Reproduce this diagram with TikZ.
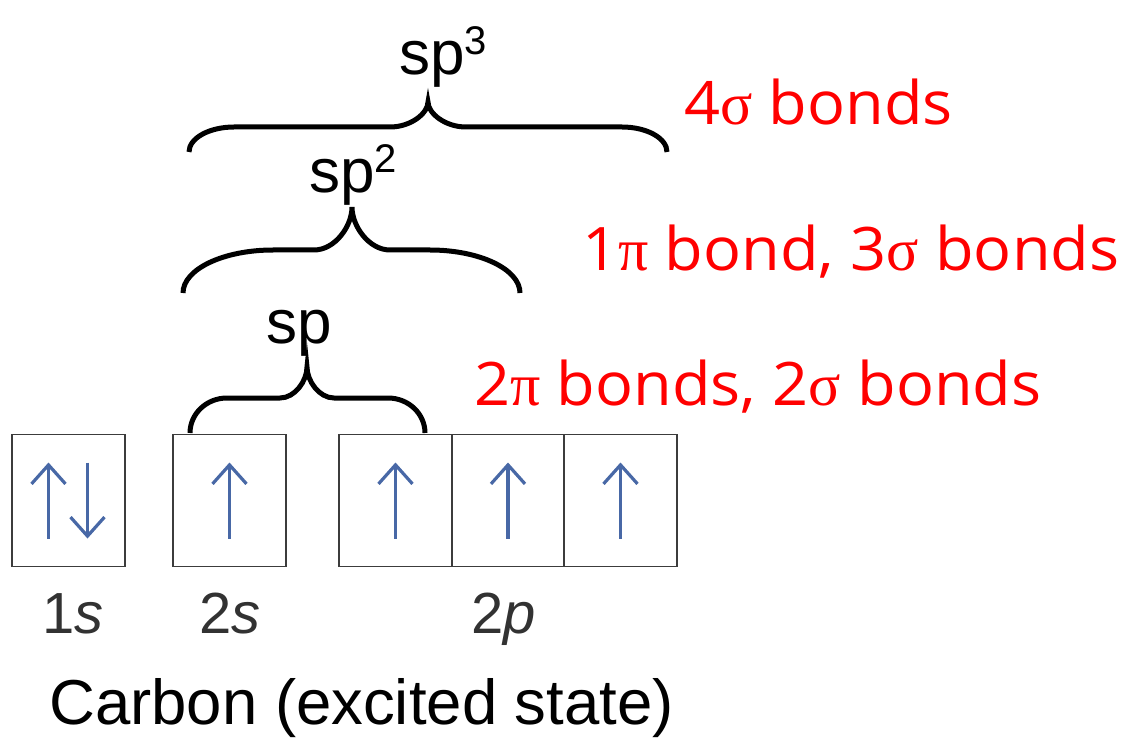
\documentclass[tikz,border=0pt]{standalone}
\usepackage{fontspec}
\setmainfont{Liberation Sans}
\newfontfamily\redfont[FakeStretch=1.05]{Open Sans}
\newfontfamily\greekfont{Liberation Serif}
\usetikzlibrary{arrows.meta}
\definecolor{spinblue}{RGB}{72,104,166}
\definecolor{boxgray}{RGB}{60,60,60}
\definecolor{lblgray}{RGB}{50,50,50}
\newcommand\supx[1]{\raisebox{20pt}{\fontsize{40}{42}\selectfont #1}}
% brace: xl, xt, xr, yb, ym, yt, rl, rt
\newcommand\hybrace[8]{%
  \draw[bracestyle] (#1,#4) .. controls (#1,{#4-0.552*(#4-#5)}) and ({#1+0.448*#7},#5) .. ({#1+#7},#5)
    -- ({#2-#8},#5) .. controls ({#2-0.448*#8},#5) and (#2,{#5-0.552*(#5-#6)}) .. (#2,#6)
    .. controls (#2,{#5-0.552*(#5-#6)}) and ({#2+0.448*#8},#5) .. ({#2+#8},#5)
    -- ({#3-#7},#5) .. controls ({#3-0.448*#7},#5) and (#3,{#4-0.552*(#4-#5)}) .. (#3,#4);}
\tikzset{
  orb/.style={draw=boxgray, line width=1.8pt, minimum height=132pt, inner sep=0pt, fill=white},
  spin/.style={draw=spinblue, line width=3.2pt, -{Straight Barb[length=19pt,width=34pt]}},
  sublbl/.style={anchor=base west, inner sep=0pt, text=lblgray, font=\fontsize{58}{60}\selectfont},
  hyblbl/.style={anchor=base west, inner sep=0pt, font=\fontsize{62}{70}\selectfont},
  bondlbl/.style={anchor=base west, inner sep=0pt, text=red, font=\redfont\fontsize{60}{64}\selectfont},
  bracestyle/.style={line width=5pt, black}
}
\begin{document}
\begin{tikzpicture}[x=1pt,y=-1pt]
\useasboundingbox (0,0) rectangle (1122,738);
% orbital boxes
\node[orb, minimum width=113pt] (o1s) at (68.5,500.5) {};
\node[orb, minimum width=113pt] (o2s) at (229.5,500.5) {};
\node[orb, minimum width=112.5pt] (o2px) at (395.5,500.5) {};
\node[orb, minimum width=112.5pt] (o2py) at (508,500.5) {};
\node[orb, minimum width=112.5pt] (o2pz) at (620.5,500.5) {};
% spins
\draw[spin] (o1s.center) ++(-20,38) -- ++(0,-76);
\draw[spin] (o1s.center) ++(19,-38) -- ++(0,76);
\draw[spin] (o2s.center) ++(0,38) -- ++(0,-76);
\draw[spin] (o2px.center) ++(0,38) -- ++(0,-76);
\draw[spin] (o2py.center) ++(0,38) -- ++(0,-76);
\draw[spin] (o2pz.center) ++(0,38) -- ++(0,-76);
% subshell labels
\node[sublbl] (l1s) at (42,633) {1\textit{s}};
\node[sublbl] (l2s) at (199,633) {2\textit{s}};
\node[sublbl] (l2p) at (471,633) {2\textit{p}};
\node[anchor=base west, inner sep=0pt, font=\fontsize{63.5}{70}\selectfont] (title) at (49,724) {Carbon (excited state)};
% braces
\hybrace{190}{307}{425}{433}{398}{367}{37}{27}
\hybrace{183}{352}{520}{293}{250}{207}{90}{38}
\hybrace{189}{428}{667}{152}{127}{102}{45}{38}
% hybrid labels
\node[hyblbl] (sp) at (266,343) {sp};
\node[hyblbl] (sp2) at (309,193) {sp\supx{2}};
\node[hyblbl] (sp3) at (399,75) {sp\supx{3}};
% bond labels
\node[bondlbl] (b4) at (684,125) {4{\greekfont σ} bonds};
\node[bondlbl] (b3) at (582,270) {1{\greekfont π} bond, 3{\greekfont σ} bonds};
\node[bondlbl] (b2) at (474,405) {2{\greekfont π} bonds, 2{\greekfont σ} bonds};
\end{tikzpicture}
\end{document}
